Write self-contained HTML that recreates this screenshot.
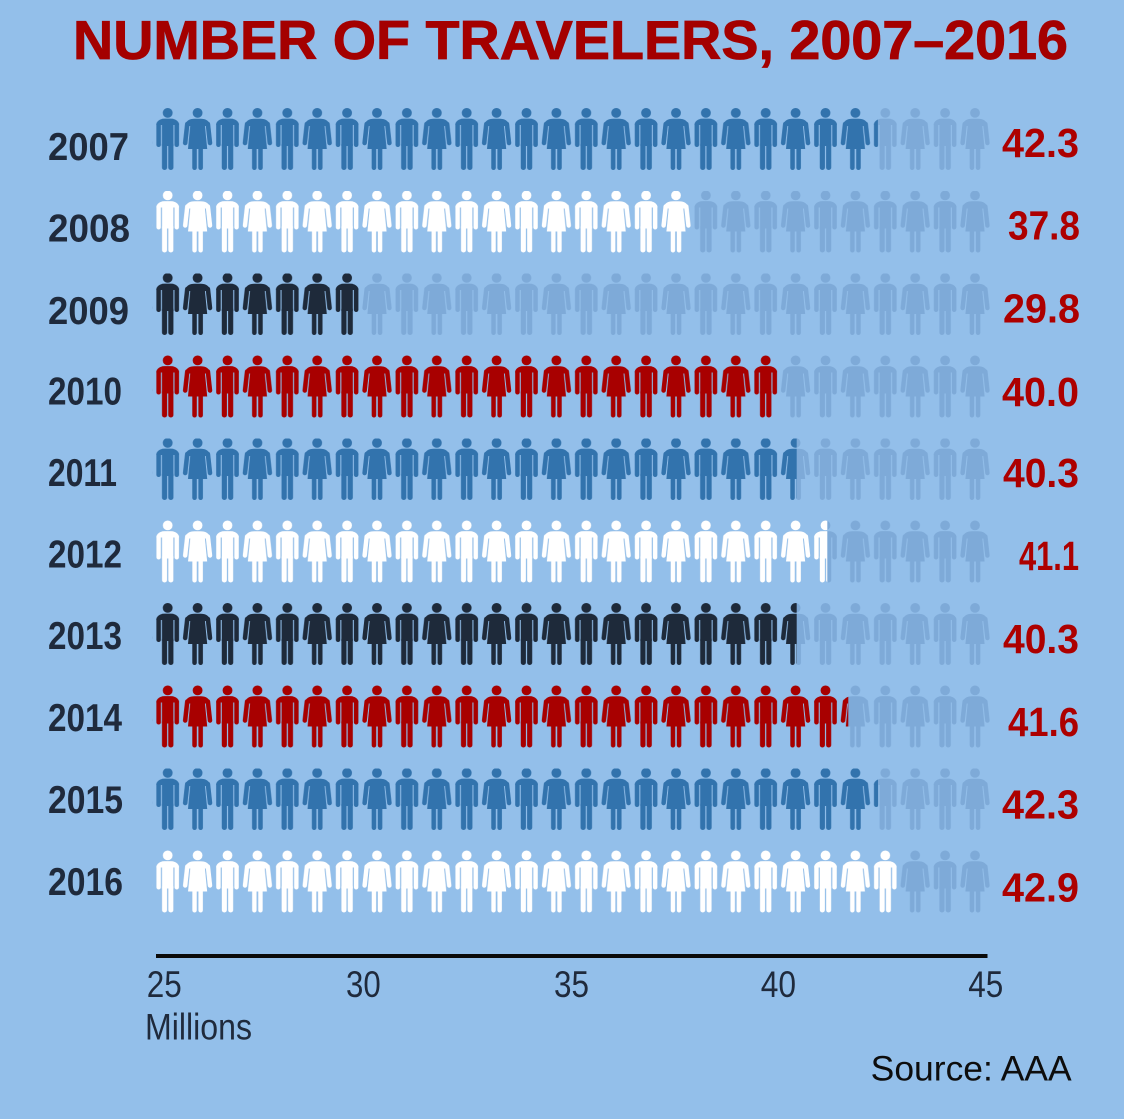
<!DOCTYPE html>
<html>
<head>
<meta charset="utf-8">
<style>
  html,body{margin:0;padding:0;background:#93bfea;}
  svg{display:block;}
  .yr{font-family:"Liberation Sans",sans-serif;font-weight:bold;font-size:39px;fill:#1f2a3c;}
  .val{font-family:"Liberation Sans",sans-serif;font-weight:bold;font-size:41px;fill:#ad0000;}
  .tick{font-family:"Liberation Sans",sans-serif;font-size:37px;fill:#1f2a3c;}
</style>
</head>
<body>
<svg width="1124" height="1119" viewBox="0 0 1124 1119" xmlns="http://www.w3.org/2000/svg">
  <defs>
    <g id="man">
      <circle cx="0" cy="4.9" r="4.9" fill="currentColor"/>
      <path d="M-11.3,17 C-11.3,13 -7.5,10.8 -3,10.8 H3 C7.5,10.8 11.3,13 11.3,17 Z" fill="currentColor"/>
      <rect x="-11.3" y="14" width="4.5" height="25" rx="2.25" fill="currentColor"/>
      <rect x="6.8" y="14" width="4.5" height="25" rx="2.25" fill="currentColor"/>
      <rect x="-5.7" y="10.8" width="11.4" height="27.2" fill="currentColor"/>
      <rect x="-5.7" y="34" width="5.1" height="28" rx="2.5" fill="currentColor"/>
      <rect x="0.6" y="34" width="5.1" height="28" rx="2.5" fill="currentColor"/>
    </g>
    <g id="woman">
      <circle cx="0" cy="4.9" r="4.9" fill="currentColor"/>
      <path d="M-12.4,18 C-12,12.8 -8,10.8 -3,10.8 H3 C8,10.8 12,12.8 12.4,18 Z" fill="currentColor"/>
      <line x1="-10.3" y1="16" x2="-12.4" y2="35" stroke="currentColor" stroke-width="4.5" stroke-linecap="round"/>
      <line x1="10.3" y1="16" x2="12.4" y2="35" stroke="currentColor" stroke-width="4.5" stroke-linecap="round"/>
      <polygon points="-6.8,12.5 6.8,12.5 9.6,41 -9.6,41" fill="currentColor"/>
      <rect x="-5.3" y="38" width="4.5" height="24" rx="2.2" fill="currentColor"/>
      <rect x="0.8" y="38" width="4.5" height="24" rx="2.2" fill="currentColor"/>
    </g>
    <pattern id="pF" patternUnits="userSpaceOnUse" x="152.7" y="108" width="59.8" height="82.5">
      <g color="#7eaad8"><use href="#man" x="15"/><use href="#woman" x="44.9"/></g>
    </pattern>
    <pattern id="pB" patternUnits="userSpaceOnUse" x="152.7" y="108" width="59.8" height="82.5">
      <g color="#3273ad"><use href="#man" x="15"/><use href="#woman" x="44.9"/></g>
    </pattern>
    <pattern id="pW" patternUnits="userSpaceOnUse" x="152.7" y="108" width="59.8" height="82.5">
      <g color="#ffffff"><use href="#man" x="15"/><use href="#woman" x="44.9"/></g>
    </pattern>
    <pattern id="pN" patternUnits="userSpaceOnUse" x="152.7" y="108" width="59.8" height="82.5">
      <g color="#1e2a3a"><use href="#man" x="15"/><use href="#woman" x="44.9"/></g>
    </pattern>
    <pattern id="pR" patternUnits="userSpaceOnUse" x="152.7" y="108" width="59.8" height="82.5">
      <g color="#a80000"><use href="#man" x="15"/><use href="#woman" x="44.9"/></g>
    </pattern>
  </defs>

  <rect x="0" y="0" width="1124" height="1119" fill="#93bfea"/>

  <!-- Title -->
  <text x="73" y="59" font-family="Liberation Sans, sans-serif" font-weight="bold" font-size="55" fill="#a40000" stroke="#a40000" stroke-width="0.8" textLength="995" lengthAdjust="spacingAndGlyphs">NUMBER OF TRAVELERS, 2007–2016</text>

  <!-- Faded icons -->
  <rect x="152.7" y="108" width="837.2" height="825" fill="url(#pF)"/>

  <!-- Colored icons -->
  <rect x="152.7" y="108" width="725.2" height="82.5" fill="url(#pB)"/>
  <rect x="152.7" y="190.5" width="540" height="82.5" fill="url(#pW)"/>
  <rect x="152.7" y="273" width="207.3" height="82.5" fill="url(#pN)"/>
  <rect x="152.7" y="355.5" width="627.3" height="82.5" fill="url(#pR)"/>
  <rect x="152.7" y="438" width="644" height="82.5" fill="url(#pB)"/>
  <rect x="152.7" y="520.5" width="674.6" height="82.5" fill="url(#pW)"/>
  <rect x="152.7" y="603" width="644" height="82.5" fill="url(#pN)"/>
  <rect x="152.7" y="685.5" width="695.6" height="82.5" fill="url(#pR)"/>
  <rect x="152.7" y="768" width="725.3" height="82.5" fill="url(#pB)"/>
  <rect x="152.7" y="850.5" width="747.3" height="82.5" fill="url(#pW)"/>

  <!-- Year labels -->
  <text class="yr" x="48" y="160" textLength="81" lengthAdjust="spacingAndGlyphs">2007</text>
  <text class="yr" x="48" y="241.5" textLength="82" lengthAdjust="spacingAndGlyphs">2008</text>
  <text class="yr" x="48" y="324" textLength="81" lengthAdjust="spacingAndGlyphs">2009</text>
  <text class="yr" x="48" y="404.5" textLength="74" lengthAdjust="spacingAndGlyphs">2010</text>
  <text class="yr" x="48" y="486" textLength="69" lengthAdjust="spacingAndGlyphs">2011</text>
  <text class="yr" x="48" y="567.5" textLength="74" lengthAdjust="spacingAndGlyphs">2012</text>
  <text class="yr" x="48" y="649" textLength="74" lengthAdjust="spacingAndGlyphs">2013</text>
  <text class="yr" x="48" y="731" textLength="74" lengthAdjust="spacingAndGlyphs">2014</text>
  <text class="yr" x="48" y="813" textLength="75" lengthAdjust="spacingAndGlyphs">2015</text>
  <text class="yr" x="48" y="895" textLength="75" lengthAdjust="spacingAndGlyphs">2016</text>

  <!-- Values -->
  <text class="val" x="1002" y="157" textLength="77" lengthAdjust="spacingAndGlyphs">42.3</text>
  <text class="val" x="1008" y="239.7" textLength="72" lengthAdjust="spacingAndGlyphs">37.8</text>
  <text class="val" x="1003" y="322.4" textLength="77" lengthAdjust="spacingAndGlyphs">29.8</text>
  <text class="val" x="1002" y="406" textLength="77" lengthAdjust="spacingAndGlyphs">40.0</text>
  <text class="val" x="1003" y="487" textLength="76" lengthAdjust="spacingAndGlyphs">40.3</text>
  <text class="val" x="1019" y="570" textLength="60" lengthAdjust="spacingAndGlyphs">41.1</text>
  <text class="val" x="1003" y="653" textLength="76" lengthAdjust="spacingAndGlyphs">40.3</text>
  <text class="val" x="1008" y="736" textLength="71" lengthAdjust="spacingAndGlyphs">41.6</text>
  <text class="val" x="1002" y="818.6" textLength="77" lengthAdjust="spacingAndGlyphs">42.3</text>
  <text class="val" x="1002" y="901.3" textLength="77" lengthAdjust="spacingAndGlyphs">42.9</text>

  <!-- Axis -->
  <rect x="156" y="954" width="831.5" height="4" fill="#0a0a0a"/>
  <text class="tick" x="146.7" y="997" textLength="35" lengthAdjust="spacingAndGlyphs">25</text>
  <text class="tick" x="346" y="997" textLength="34.7" lengthAdjust="spacingAndGlyphs">30</text>
  <text class="tick" x="554" y="997" textLength="35" lengthAdjust="spacingAndGlyphs">35</text>
  <text class="tick" x="760.7" y="997" textLength="35.3" lengthAdjust="spacingAndGlyphs">40</text>
  <text class="tick" x="968.3" y="997" textLength="35" lengthAdjust="spacingAndGlyphs">45</text>
  <text class="tick" x="145" y="1039.5" textLength="107" lengthAdjust="spacingAndGlyphs">Millions</text>

  <!-- Source -->
  <text x="870.7" y="1080.5" font-family="Liberation Sans, sans-serif" font-size="35" fill="#0d0d0d" textLength="201" lengthAdjust="spacingAndGlyphs">Source: AAA</text>
</svg>
</body>
</html>
